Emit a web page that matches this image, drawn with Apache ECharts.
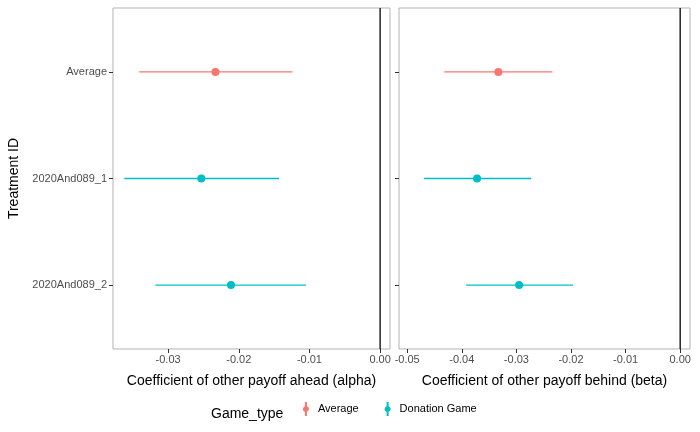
<!DOCTYPE html><html><head><meta charset="utf-8">
<script src="https://cdn.jsdelivr.net/npm/echarts@6/dist/echarts.min.js"></script>
<style>body{margin:0}#c{width:700px;height:432px}</style></head><body><div id="c"></div>
<script>
const categories=["Average","2020And089_1","2020And089_2"];
const gameType=["Average","Donation Game","Donation Game"];
const alphaEst=[-0.0233,-0.0253,-0.0211];
const alphaLow=[-0.0341,-0.0362,-0.0318];
const alphaHigh=[-0.0124,-0.0143,-0.0105];
const betaEst=[-0.0333,-0.0372,-0.0295];
const betaLow=[-0.0432,-0.0469,-0.0392];
const betaHigh=[-0.0234,-0.0273,-0.0196];
const colors={"Average":"#F8766D","Donation Game":"#00BFC4"};
const F="Liberation Sans";
function xAxis(idx,min,max,ticks,name){return {gridIndex:idx,type:'value',min:min,max:max,position:'bottom',
 axisLine:{show:false},splitLine:{show:false},
 axisTick:{show:true,customValues:ticks,length:4,lineStyle:{color:'#333'}},
 axisLabel:{customValues:ticks,color:'#4d4d4d',fontSize:11,fontFamily:F,margin:5,formatter:v=>v.toFixed(2)},
 name:name,nameLocation:'middle',nameGap:25,nameTextStyle:{fontSize:14,color:'#000',fontFamily:F}};}
function yAxis(idx,show){return {gridIndex:idx,type:'value',min:0.4,max:3.6,inverse:true,position:'left',
 axisLine:{show:false,onZero:false},splitLine:{show:false},
 axisTick:{show:true,customValues:[1,2,3],length:4,lineStyle:{color:'#333'}},
 axisLabel:{show:show,customValues:[1,2,3],color:'#4d4d4d',fontSize:11,fontFamily:F,margin:6,formatter:v=>categories[Math.round(v)-1]||''},
 name:show?'Treatment ID':'',nameLocation:'middle',nameGap:92,nameTextStyle:{fontSize:14,color:'#000',fontFamily:F}};}
function bars(idx,low,high,type){return {type:'custom',xAxisIndex:idx,yAxisIndex:idx,name:type,
 itemStyle:{color:colors[type]},
 data:categories.map((c,i)=>gameType[i]===type?[low[i],high[i],i+1]:null).filter(d=>d),
 renderItem:(p,api)=>{const a=api.coord([api.value(0),api.value(2)]),b=api.coord([api.value(1),api.value(2)]);
  return {type:'line',shape:{x1:a[0],y1:a[1],x2:b[0],y2:b[1]},style:{stroke:colors[type],lineWidth:1.3}};},
 encode:{x:[0,1],y:2},z:2};}
function pts(idx,est,type){return {type:'scatter',xAxisIndex:idx,yAxisIndex:idx,name:type,symbolSize:8,
 itemStyle:{color:colors[type],opacity:1},
 data:categories.map((c,i)=>gameType[i]===type?[est[i],i+1]:null).filter(d=>d),z:3};}
function zero(idx){return {type:'line',xAxisIndex:idx,yAxisIndex:idx,data:[[0,0.4],[0,3.6]],symbol:'none',
 lineStyle:{color:'#000',width:1.3},silent:true,z:1};}
const icon='path://M6,0L8,0L8,4.2A3,3 0 0 1 8,9.8L8,14L6,14L6,9.8A3,3 0 0 1 6,4.2Z';
const opt={animation:false,
 grid:[{left:113,right:310,top:8,bottom:83,show:true,borderColor:'#b3b3b3',borderWidth:1},
       {left:399,right:10,top:8,bottom:83,show:true,borderColor:'#b3b3b3',borderWidth:1}],
 xAxis:[xAxis(0,-0.0378,0.0014,[-0.03,-0.02,-0.01,0],'Coefficient of other payoff ahead (alpha)'),
        xAxis(1,-0.0515,0.0018,[-0.05,-0.04,-0.03,-0.02,-0.01,0],'Coefficient of other payoff behind (beta)')],
 yAxis:[yAxis(0,true),yAxis(1,false)],
 legend:{bottom:11,left:298,itemGap:26,itemWidth:14,itemHeight:14,
  data:[{name:'Average',icon:icon},{name:'Donation Game',icon:icon}],
  textStyle:{fontSize:11,fontFamily:F,color:'#000'}},
 color:['#F8766D','#00BFC4'],
 graphic:[{type:'text',left:211,bottom:11,style:{text:'Game_type',fontSize:14,fontFamily:F,fill:'#000'}}],
 series:[zero(0),zero(1),
  bars(0,alphaLow,alphaHigh,'Average'),bars(0,alphaLow,alphaHigh,'Donation Game'),
  pts(0,alphaEst,'Average'),pts(0,alphaEst,'Donation Game'),
  bars(1,betaLow,betaHigh,'Average'),bars(1,betaLow,betaHigh,'Donation Game'),
  pts(1,betaEst,'Average'),pts(1,betaEst,'Donation Game')]};
echarts.init(document.getElementById('c')).setOption(opt);
</script></body></html>
